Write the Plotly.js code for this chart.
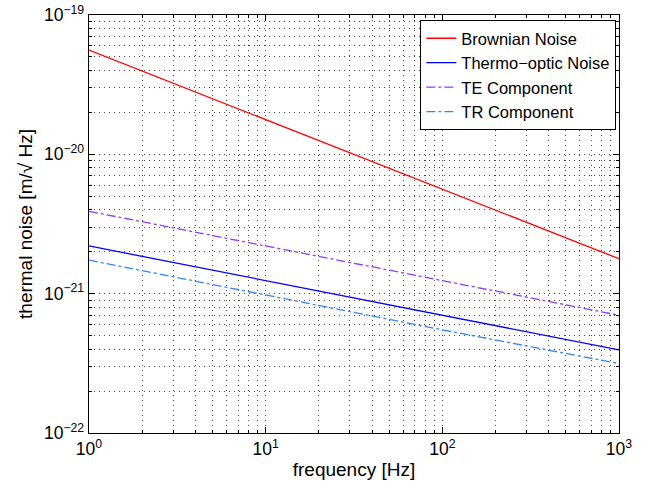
<!DOCTYPE html>
<html>
<head>
<meta charset="utf-8">
<script src="https://cdn.plot.ly/plotly-3.0.1.min.js"></script>
<style>html,body{margin:0;padding:0;background:#fff;}#chart{width:650px;height:489px;}</style>
</head>
<body>
<div id="chart"></div>
<script>
const frequency = [1, 10, 100, 1000];
const brownian = [5.6e-20, 1.77e-20, 5.6e-21, 1.78e-21];
const thermoOptic = [2.2e-21, 1.24e-21, 7.0e-22, 3.95e-22];
const teComponent = [3.9e-21, 2.2e-21, 1.24e-21, 7.0e-22];
const trComponent = [1.74e-21, 9.8e-22, 5.5e-22, 3.15e-22];
const seriesNames = ["Brownian Noise", "Thermo\u2212optic Noise", "TE Component", "TR Component"];
const xTickVals = [1, 10, 100, 1000];
const xTickText = ["10<sup>0</sup>", "10<sup>1</sup>", "10<sup>2</sup>", "10<sup>3</sup>"];
const yTickVals = [1e-22, 1e-21, 1e-20, 1e-19];
const yTickText = ["10<sup>\u221222</sup>", "10<sup>\u221221</sup>", "10<sup>\u221220</sup>", "10<sup>\u221219</sup>"];

const traces = [
  {x: frequency, y: brownian, name: seriesNames[0], mode: 'lines', line: {color: '#ff0000', width: 1.3}},
  {x: frequency, y: thermoOptic, name: seriesNames[1], mode: 'lines', line: {color: '#0000ff', width: 1.3}},
  {x: frequency, y: teComponent, name: seriesNames[2], mode: 'lines', line: {color: '#8c3cff', width: 1.3, dash: 'dashdot'}},
  {x: frequency, y: trComponent, name: seriesNames[3], mode: 'lines', line: {color: '#3385ff', width: 1.3, dash: 'dashdot'}}
];

const fontFam = 'Liberation Sans, Arial, Helvetica, sans-serif';
const gridDash = '1px,4px';
const axisCommon = {
  type: 'log',
  showline: true, linecolor: '#000', linewidth: 1.3, mirror: 'allticks',
  ticks: 'inside', ticklen: 6, tickwidth: 1, tickcolor: '#000',
  showgrid: true, gridcolor: '#444', griddash: gridDash, gridwidth: 1,
  zeroline: false,
  tickmode: 'array',
  tickfont: {family: fontFam, size: 17.5, color: '#000'},
  minor: {dtick: 'D1', showgrid: true, gridcolor: '#444', griddash: gridDash, gridwidth: 1, ticks: 'inside', ticklen: 3, tickcolor: '#000'}
};

const layout = {
  width: 650, height: 489,
  margin: {l: 89, r: 31, t: 15, b: 56},
  paper_bgcolor: '#fff', plot_bgcolor: '#fff',
  font: {family: fontFam, size: 16, color: '#000'},
  showlegend: true,
  legend: {x: 0.995, xanchor: 'right', y: 0.988, yanchor: 'top', bordercolor: '#000', borderwidth: 1, bgcolor: '#fff',
           font: {family: fontFam, size: 16.5, color: '#000'}, tracegroupgap: 0, itemwidth: 30},
  xaxis: Object.assign({}, axisCommon, {range: [0, 3], tickvals: xTickVals, ticktext: xTickText,
           title: {text: 'frequency [Hz]', font: {family: fontFam, size: 19}, standoff: 4}}),
  yaxis: Object.assign({}, axisCommon, {range: [-22, -19], tickvals: yTickVals, ticktext: yTickText,
           title: {text: 'thermal noise [m/\u221A Hz]', font: {family: fontFam, size: 19}, standoff: 6}})
};

Plotly.newPlot('chart', traces, layout, {displayModeBar: false, staticPlot: true});
</script>
</body>
</html>
